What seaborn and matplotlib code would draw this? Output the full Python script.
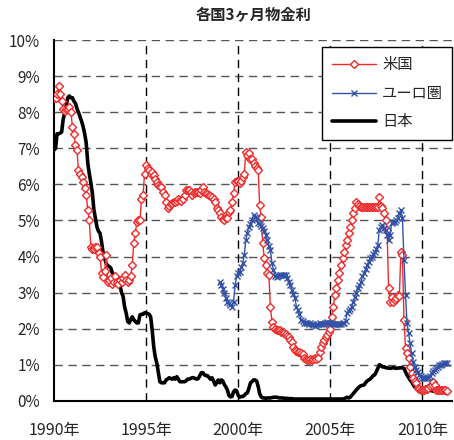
import numpy as np
import pandas as pd
import matplotlib
matplotlib.use("Agg")
import matplotlib.pyplot as plt
import seaborn as sns

# ── Data (monthly) ───────────────────────────────────────────────────────────
TITLE = "各国3ヶ月物金利"
SERIES_NAMES = ["米国", "ユーロ圏", "日本"]

US_START = "1990-01"
us_rate = [
    8.4, 8.4, 8.5, 8.73, 8.5, 8.3, 8.1, 8.03, 8.1, 8.1, 8.15, 8.0,        # 1990
    7.6, 7.4, 7.1, 6.95, 6.4, 6.3, 6.2, 6.07, 5.9, 5.7, 5.3, 5.0,          # 1991
    4.27, 4.2, 4.2, 4.25, 4.27, 4.1, 4.0, 3.55, 3.43, 3.6, 4.04, 3.3,      # 1992
    3.35, 3.4, 3.25, 3.3, 3.45, 3.3, 3.25, 3.35, 3.3, 3.4, 3.5, 3.35,      # 1993
    3.3, 3.35, 3.45, 3.77, 4.37, 4.65, 4.96, 5.0, 5.0, 5.6, 5.7, 6.3,      # 1994
    6.54, 6.45, 6.4, 6.3, 6.35, 6.26, 6.15, 6.07, 5.98, 5.95, 5.93, 5.8,   # 1995
    5.7, 5.5, 5.35, 5.4, 5.45, 5.48, 5.5, 5.5, 5.55, 5.6, 5.58, 5.55,      # 1996
    5.6, 5.7, 5.85, 5.85, 5.85, 5.8, 5.7, 5.75, 5.8, 5.8, 5.78, 5.76,      # 1997
    5.85, 5.93, 5.8, 5.76, 5.72, 5.7, 5.68, 5.65, 5.6, 5.5, 5.35, 5.3,     # 1998
    5.2, 5.1, 5.05, 5.0, 5.07, 5.07, 5.24, 5.3, 5.5, 5.76, 6.07, 6.1,      # 1999
    6.1, 6.04, 6.1, 6.2, 6.3, 6.9, 6.8, 6.87, 6.7, 6.7, 6.6, 6.5,          # 2000
    6.45, 6.4, 5.43, 5.1, 4.38, 3.96, 3.77, 3.55, 3.5, 2.6, 2.19, 2.05,    # 2001
    2.0, 1.97, 1.97, 1.95, 1.9, 1.9, 1.88, 1.85, 1.8, 1.77, 1.7, 1.63,     # 2002
    1.5, 1.41, 1.38, 1.36, 1.35, 1.33, 1.3, 1.19, 1.16, 1.14, 1.14, 1.15,  # 2003
    1.14, 1.17, 1.19, 1.16, 1.2, 1.36, 1.5, 1.6, 1.69, 1.77, 1.83, 1.9,    # 2004
    2.0, 2.33, 2.6, 2.94, 3.13, 3.35, 3.55, 3.77, 3.96, 4.13, 4.32, 4.46,  # 2005
    4.65, 4.82, 5.0, 5.2, 5.35, 5.5, 5.45, 5.4, 5.38, 5.37, 5.37, 5.36,    # 2006
    5.36, 5.36, 5.36, 5.36, 5.36, 5.36, 5.36, 5.38, 5.65, 5.4, 5.35, 5.2,  # 2007
    5.0, 4.74, 3.13, 2.74, 2.88, 2.74, 2.8, 2.85, 2.94, 2.9, 4.13, 4.04,   # 2008
    2.24, 1.47, 1.33, 1.19, 0.94, 0.78, 0.64, 0.55, 0.5, 0.36, 0.32, 0.3,  # 2009
    0.3, 0.3, 0.32, 0.33, 0.36, 0.4, 0.44, 0.53, 0.45, 0.3, 0.3, 0.3,      # 2010
    0.3, 0.3, 0.3, 0.29, 0.28,                                             # 2011
]

EURO_START = "1999-01"
euro_rate = [
    3.3, 3.2, 3.1, 3.0, 2.85, 2.75, 2.7, 2.65, 2.6, 2.75, 3.2, 3.45,       # 1999
    3.55, 3.57, 3.7, 3.82, 4.04, 4.46, 4.65, 4.82, 4.9, 5.0, 5.15, 5.1,    # 2000
    5.07, 4.93, 4.9, 4.85, 4.78, 4.7, 4.6, 4.46, 4.3, 4.18, 3.82, 3.63,    # 2001
    3.45, 3.43, 3.45, 3.5, 3.5, 3.5, 3.5, 3.5, 3.4, 3.3, 3.2, 3.07,        # 2002
    2.95, 2.85, 2.6, 2.52, 2.4, 2.24, 2.2, 2.16, 2.15, 2.15, 2.14, 2.15,   # 2003
    2.12, 2.1, 2.08, 2.1, 2.12, 2.15, 2.14, 2.12, 2.14, 2.16, 2.18, 2.17,  # 2004
    2.15, 2.15, 2.14, 2.14, 2.13, 2.12, 2.13, 2.14, 2.15, 2.17, 2.2, 2.44, # 2005
    2.5, 2.55, 2.6, 2.75, 2.88, 3.0, 3.13, 3.2, 3.3, 3.45, 3.55, 3.65,     # 2006
    3.77, 3.85, 3.95, 4.0, 4.07, 4.13, 4.2, 4.32, 4.74, 4.82, 4.88, 4.8,   # 2007
    4.74, 4.6, 4.46, 4.6, 4.93, 4.95, 4.96, 5.0, 5.07, 5.2, 5.3, 5.07,     # 2008
    3.9, 2.94, 2.16, 1.88, 1.6, 1.33, 1.08, 0.95, 0.86, 0.8, 0.72, 0.68,   # 2009
    0.64, 0.64, 0.64, 0.64, 0.65, 0.7, 0.78, 0.82, 0.86, 0.9, 0.94, 0.98,  # 2010
    1.0, 1.02, 1.05, 1.05, 1.05,                                           # 2011
]

JP_START = "1990-01"
jp_rate = [
    6.95, 7.0, 7.4, 7.4, 7.42, 7.45, 7.8, 7.97, 8.2, 8.4, 8.45, 8.4,       # 1990
    8.4, 8.3, 8.25, 8.1, 8.0, 7.87, 7.75, 7.6, 7.4, 7.15, 6.6, 6.3,        # 1991
    6.05, 5.75, 5.3, 5.05, 4.82, 4.7, 4.65, 4.4, 4.1, 3.95, 3.8, 3.75,     # 1992
    3.72, 3.68, 3.55, 3.45, 3.4, 3.3, 3.27, 3.2, 3.0, 2.9, 2.6, 2.44,      # 1993
    2.2, 2.16, 2.25, 2.33, 2.25, 2.2, 2.16, 2.16, 2.38, 2.4, 2.4, 2.44,    # 1994
    2.44, 2.42, 2.4, 2.33, 1.97, 1.5, 1.22, 1.05, 0.78, 0.53, 0.5, 0.5,    # 1995
    0.5, 0.58, 0.6, 0.64, 0.62, 0.6, 0.64, 0.6, 0.67, 0.6, 0.53, 0.53,     # 1996
    0.53, 0.53, 0.55, 0.6, 0.6, 0.62, 0.64, 0.64, 0.62, 0.6, 0.62, 0.7,    # 1997
    0.78, 0.78, 0.72, 0.7, 0.7, 0.65, 0.6, 0.64, 0.55, 0.44, 0.5, 0.58,    # 1998
    0.5, 0.58, 0.55, 0.45, 0.39, 0.3, 0.15, 0.11, 0.12, 0.25, 0.3, 0.28,   # 1999
    0.15, 0.1, 0.12, 0.12, 0.15, 0.2, 0.22, 0.35, 0.5, 0.53, 0.58, 0.58,   # 2000
    0.55, 0.4, 0.2, 0.11, 0.08, 0.08, 0.07, 0.08, 0.08, 0.08, 0.09, 0.1,   # 2001
    0.1, 0.1, 0.09, 0.08, 0.08, 0.08, 0.07, 0.07, 0.07, 0.06, 0.06, 0.06,  # 2002
    0.05, 0.05, 0.05, 0.05, 0.05, 0.05, 0.05, 0.05, 0.05, 0.05, 0.05, 0.05,  # 2003
    0.05, 0.05, 0.05, 0.05, 0.05, 0.05, 0.05, 0.05, 0.05, 0.05, 0.05, 0.05,  # 2004
    0.05, 0.05, 0.05, 0.05, 0.05, 0.05, 0.05, 0.05, 0.05, 0.06, 0.08, 0.1,   # 2005
    0.08, 0.1, 0.15, 0.2, 0.25, 0.3, 0.35, 0.39, 0.42, 0.43, 0.44, 0.5,    # 2006
    0.55, 0.58, 0.6, 0.65, 0.7, 0.72, 0.8, 0.9, 1.0, 0.98, 0.94, 0.95,     # 2007
    0.92, 0.91, 0.91, 0.9, 0.91, 0.92, 0.91, 0.9, 0.91, 0.91, 0.92, 0.91,  # 2008
    0.9, 0.8, 0.72, 0.65, 0.58, 0.53, 0.45, 0.39, 0.35, 0.32, 0.3, 0.3,    # 2009
    0.3, 0.3, 0.3, 0.3, 0.3, 0.3, 0.28, 0.27, 0.26, 0.25, 0.25, 0.25,      # 2010
    0.25, 0.25, 0.25, 0.25, 0.25,                                          # 2011
]

Y_TICKS = list(range(0, 11))
X_TICK_YEARS = [1990, 1995, 2000, 2005, 2010]

# ── Style ────────────────────────────────────────────────────────────────────
US_COLOR = "#ee2a2a"
EURO_COLOR = "#3352a6"
JP_COLOR = "black"


def monthly(start, values):
    return pd.DataFrame({"date": pd.date_range(start, periods=len(values), freq="MS"),
                         "rate": values})


def main():
    sns.set_style("white")
    plt.rcParams["font.family"] = ["Noto Sans CJK JP", "DejaVu Sans"]

    us = monthly(US_START, us_rate)
    eu = monthly(EURO_START, euro_rate)
    jp = monthly(JP_START, jp_rate)

    fig, ax = plt.subplots(figsize=(4.54, 4.40), dpi=100)
    fig.subplots_adjust(left=0.119, right=0.996, bottom=0.089, top=0.909)

    sns.lineplot(data=jp, x="date", y="rate", ax=ax, color=JP_COLOR, lw=2.6,
                 label=SERIES_NAMES[2], zorder=3)
    sns.lineplot(data=us, x="date", y="rate", ax=ax, color=US_COLOR, lw=1.0,
                 marker="D", markersize=3.8, markerfacecolor="white",
                 markeredgecolor=US_COLOR, markeredgewidth=1.0,
                 label=SERIES_NAMES[0], zorder=4)
    sns.lineplot(data=eu, x="date", y="rate", ax=ax, color=EURO_COLOR, lw=1.0,
                 marker="x", markersize=5, markeredgecolor=EURO_COLOR,
                 markeredgewidth=1.0, label=SERIES_NAMES[1], zorder=5)

    ax.set_ylim(0, 10)
    ax.set_xlim(pd.Timestamp("1990-01-01"), pd.Timestamp("2011-08-15"))

    ax.set_yticks(Y_TICKS)
    ax.set_yticklabels([f"{v}%" for v in Y_TICKS])
    xt = [pd.Timestamp(f"{y}-01-01") for y in X_TICK_YEARS]
    ax.set_xticks(xt)
    ax.set_xticklabels([f"{y}年" for y in X_TICK_YEARS])
    ax.tick_params(axis="both", length=0, labelsize=11)
    ax.tick_params(axis="x", pad=15, labelsize=11.5)
    ax.tick_params(axis="y", pad=10)

    for v in Y_TICKS[1:]:
        ax.axhline(v, color="#555555", lw=1.0, ls=(0, (6, 4)), zorder=1)
    for d in xt[1:]:
        ax.axvline(d, color="black", lw=1.0, ls=(0, (6, 4)), zorder=1)

    for s in ["top", "right"]:
        ax.spines[s].set_visible(False)
    for s in ["left", "bottom"]:
        ax.spines[s].set_color("black")
        ax.spines[s].set_linewidth(1.5)

    ax.set_xlabel("")
    ax.set_ylabel("")
    ax.set_title(TITLE, fontsize=11, fontweight="bold", pad=14)

    handles, labels = ax.get_legend_handles_labels()
    order = [labels.index(n) for n in SERIES_NAMES]
    leg = ax.legend([handles[i] for i in order], [labels[i] for i in order],
                    loc="upper right", bbox_to_anchor=(1.0, 0.98),
                    borderaxespad=0, frameon=True, fancybox=False,
                    edgecolor="black", framealpha=1, fontsize=11,
                    handlelength=2.9, labelspacing=0.75, borderpad=0.6,
                    handletextpad=0.4)
    leg.get_frame().set_linewidth(1.0)

    plt.savefig("out.png", dpi=100, facecolor="white")


if __name__ == "__main__":
    main()
